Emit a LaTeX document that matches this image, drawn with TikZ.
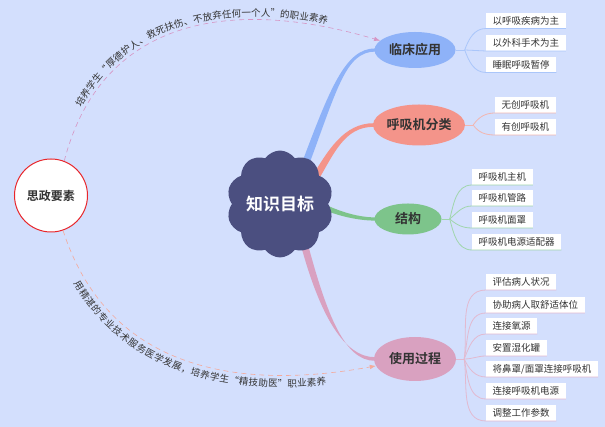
\documentclass[tikz,border=0pt]{standalone}
\usepackage{fontspec}
\setmainfont{Noto Sans CJK SC}[BoldFont={Noto Sans CJK SC Bold}]
\usetikzlibrary{shapes.symbols,shapes.geometric,calc,decorations.text,arrows.meta}
\definecolor{bgc}{RGB}{211,223,253}
\definecolor{cblue}{RGB}{142,178,248}
\definecolor{csal}{RGB}{244,148,138}
\definecolor{cgrn}{RGB}{125,196,139}
\definecolor{cpnk}{RGB}{217,161,192}
\definecolor{lblue}{RGB}{170,198,250}
\definecolor{lsal}{RGB}{242,182,176}
\definecolor{lgrn}{RGB}{160,214,172}
\definecolor{lpnk}{RGB}{226,186,208}
\definecolor{cloudc}{RGB}{75,79,128}
\definecolor{txt}{RGB}{51,51,51}
\definecolor{arcp}{RGB}{214,150,196}
\definecolor{arcs}{RGB}{244,170,155}
\definecolor{sred}{RGB}{232,38,43}
\pgfdeclarelayer{bgl}
\pgfdeclarelayer{edges}
\pgfsetlayers{bgl,edges,main}
\tikzset{
  topic/.style={ellipse, inner sep=0pt, text=txt, font=\bfseries\fontsize{13}{15}\selectfont},
  leaf/.style={fill=white, anchor=south west, inner xsep=6.5pt, inner ysep=0pt, minimum height=15.5pt, text=txt, font=\fontsize{9.5}{11}\selectfont},
  twig/.style={line width=0.8pt},
  arcline/.style={dash pattern=on 5pt off 4pt, line width=0.6pt, -{Latex[length=6pt,width=4.5pt]}},
  arctext/.style={decorate, decoration={text along path, text align=center, text color=txt, raise=#1}},
}
\begin{document}
\begin{tikzpicture}[x=1pt,y=1pt]
\useasboundingbox (0,0) rectangle (605,427);
\begin{pgfonlayer}{bgl}
\fill[bgc] (0,0) rectangle (605,427);
\end{pgfonlayer}

% nodes
\node[cloud, cloud puffs=10, cloud puff arc=110, aspect=1, fill=cloudc, minimum width=100pt, minimum height=104pt, inner sep=0pt, text=white, font=\bfseries\fontsize{17}{19}\selectfont] (core) at (280,223) {知识目标};
\node[circle, draw=sred, line width=1pt, fill=white, minimum size=73pt, inner sep=0pt, text=txt, font=\bfseries\fontsize{12}{14}\selectfont] (sz) at (51,231.5) {思政要素};

\node[topic, fill=cblue, minimum width=81pt, minimum height=36pt] (kc) at (415,377) {临床应用};
\node[topic, fill=csal, minimum width=88pt, minimum height=41pt] (hx) at (419,302) {呼吸机分类};
\node[topic, fill=cgrn, minimum width=67pt, minimum height=31pt] (jg) at (408,208) {结构};
\node[topic, fill=cpnk, minimum width=82pt, minimum height=44pt] (sy) at (415,68) {使用过程};

\node[leaf] (k1) at (486,398.5) {以呼吸疾病为主};
\node[leaf] (k2) at (486,376) {以外科手术为主};
\node[leaf] (k3) at (486,354.5) {睡眠呼吸暂停};
\node[leaf] (h1) at (495,314) {无创呼吸机};
\node[leaf] (h2) at (495,292) {有创呼吸机};
\node[leaf] (g1) at (472,242) {呼吸机主机};
\node[leaf] (g2) at (472,221) {呼吸机管路};
\node[leaf] (g3) at (472,199) {呼吸机面罩};
\node[leaf] (g4) at (472,177) {呼吸机电源适配器};
\node[leaf] (s1) at (486,137) {评估病人状况};
\node[leaf] (s2) at (486,114) {协助病人取舒适体位};
\node[leaf] (s3) at (486,93) {连接氧源};
\node[leaf] (s4) at (486,71) {安置湿化罐};
\node[leaf] (s5) at (486,50) {将鼻罩/面罩连接呼吸机};
\node[leaf] (s6) at (486,28) {连接呼吸机电源};
\node[leaf] (s7) at (486,6) {调整工作参数};

\coordinate (jk) at ($(kc.east)+(9,0)$);
\coordinate (jh) at ($(hx.east)+(8,0)$);
\coordinate (jj) at ($(jg.east)+(8,0)$);
\coordinate (js) at ($(sy.east)+(8,0)$);

% main tapered branches
\begin{pgfonlayer}{edges}
\fill[cblue] ($(core.center)+(20,36)$) .. controls +(30,80) and +(-30,0) .. ($(kc.west)+(1,1.6)$) -- ($(kc.west)+(1,-1.6)$) .. controls +(-30,0) and +(30,80) .. ($(core.center)+(27,34)$) -- cycle;
\fill[csal] ($(core.center)+(30,24)$) .. controls +(18,30) and +(-30,0) .. ($(hx.west)+(1,1.8)$) -- ($(hx.west)+(1,-1.8)$) .. controls +(-30,0) and +(18,30) .. ($(core.center)+(36,20)$) -- cycle;
\fill[cgrn] ($(core.center)+(39,2.6)$) .. controls +(15,-8) and +(-20,0) .. ($(jg.west)+(1,1.6)$) -- ($(jg.west)+(1,-1.6)$) .. controls +(-20,0) and +(15,-8) .. ($(core.center)+(37,-2.4)$) -- cycle;
\fill[cpnk] ($(core.center)+(20,-38)$) .. controls +(20,-75) and +(-30,0) .. ($(sy.west)+(1,1.8)$) -- ($(sy.west)+(1,-1.8)$) .. controls +(-30,0) and +(20,-75) .. ($(core.center)+(27,-37)$) -- cycle;
\end{pgfonlayer}

% twigs
\draw[twig, lblue] (kc.east) -- (jk);
\draw[twig, lblue] (jk) to[out=70,in=180] (k1.south west) -- (k1.south east);
\draw[twig, lblue] (jk) -- (k2.south west) -- (k2.south east);
\draw[twig, lblue] (jk) to[out=-70,in=180] (k3.south west) -- (k3.south east);

\draw[twig, lsal] (hx.east) -- (jh);
\draw[twig, lsal] (jh) to[out=55,in=180] (h1.south west) -- (h1.south east);
\draw[twig, lsal] (jh) to[out=-55,in=180] (h2.south west) -- (h2.south east);

\draw[twig, lgrn] (jg.east) -- (jj);
\draw[twig, lgrn] (jj) to[out=75,in=180] (g1.south west) -- (g1.south east);
\draw[twig, lgrn] (jj) to[out=40,in=180] (g2.south west) -- (g2.south east);
\draw[twig, lgrn] (jj) to[out=-40,in=180] (g3.south west) -- (g3.south east);
\draw[twig, lgrn] (jj) to[out=-75,in=180] (g4.south west) -- (g4.south east);

\draw[twig, lpnk] (sy.east) -- (js);
\draw[twig, lpnk] (js) to[out=82,in=180] (s1.south west) -- (s1.south east);
\draw[twig, lpnk] (js) to[out=78,in=180] (s2.south west) -- (s2.south east);
\draw[twig, lpnk] (js) to[out=68,in=180] (s3.south west) -- (s3.south east);
\draw[twig, lpnk] (js) to[out=0,in=180] (s4.south west) -- (s4.south east);
\draw[twig, lpnk] (js) to[out=-65,in=180] (s5.south west) -- (s5.south east);
\draw[twig, lpnk] (js) to[out=-78,in=180] (s6.south west) -- (s6.south east);
\draw[twig, lpnk] (js) to[out=-82,in=180] (s7.south west) -- (s7.south east);

% dashed arcs with curved text
\draw[arcline, arcp] (sz.69) .. controls +(36,139) and +(-155,46) .. (kc.165);
\path[arctext=3.5pt, decoration={text={|\fontsize{9.5}{11}\selectfont|培养学生“厚德护人、救死扶伤、不放弃任何一个人”的职业素养}}] (sz.69) .. controls +(36,139) and +(-155,46) .. (kc.165);

\draw[arcline, arcs] (sz.-71) .. controls +(43,-133) and +(-148,-27) .. (sy.190);
\path[arctext=-12pt, decoration={text={|\fontsize{9.5}{11}\selectfont|用精湛的专业技术服务医学发展，培养学生“精技助医”职业素养}}] (sz.-71) .. controls +(43,-133) and +(-148,-27) .. (sy.190);
\end{tikzpicture}
\end{document}
